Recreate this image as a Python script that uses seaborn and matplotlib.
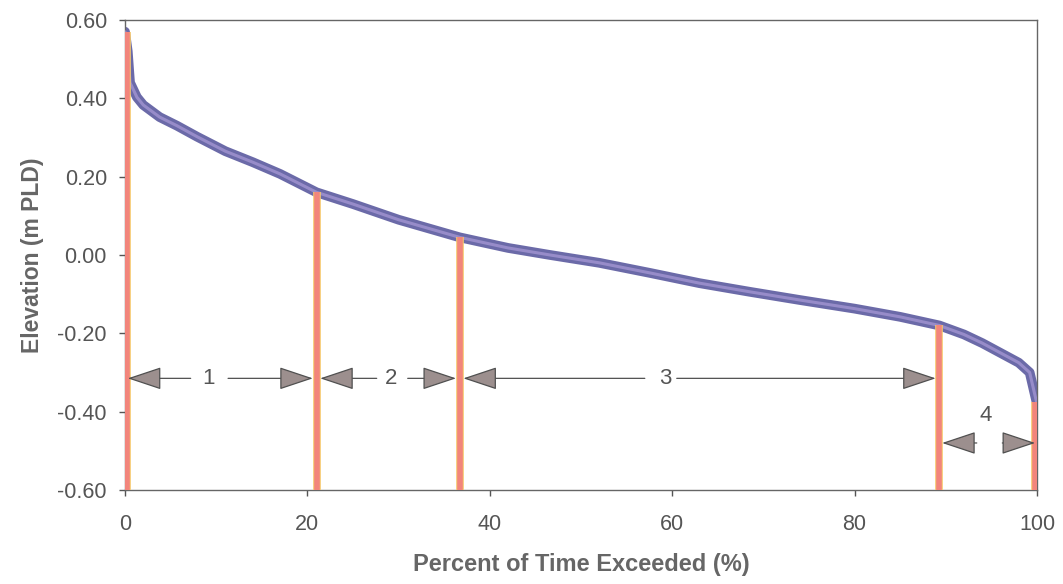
import matplotlib
matplotlib.use("Agg")
import matplotlib.pyplot as plt
import seaborn as sns
import pandas as pd

# Duration curve
pct_exceeded = [0, 0.3, 0.55, 1.3, 2.0, 3.8, 5.7, 7.9, 11, 14, 17, 21, 25, 30,
                36.7, 42, 46.6, 52, 57.6, 63, 68.5, 74, 80, 85, 89.3, 92, 94,
                96, 98, 99.2, 99.6, 100]
elevation = [0.57, 0.52, 0.44, 0.403, 0.383, 0.352, 0.33, 0.302, 0.265, 0.237,
             0.207, 0.16, 0.13, 0.09, 0.045, 0.018, 0.0, -0.02, -0.046, -0.072,
             -0.094, -0.115, -0.137, -0.158, -0.18, -0.203, -0.225, -0.25,
             -0.275, -0.30, -0.34, -0.38]

# Zone boundaries (red lines) and their top values
bound_x = [0.2, 21, 36.7, 89.3, 99.8]
bound_top = [0.57, 0.16, 0.045, -0.18, -0.375]

# Zone arrows: label, left tip, left line end, label x, right line start, right tip, y
zone_labels = ["1", "2", "3", "4"]
zone_left = [0.3, 21.4, 37.1, 89.6]
zone_left_end = [7.2, 27.6, 57.0, 93.4]
zone_text_x = [9.2, 29.2, 59.3, 94.4]
zone_right_start = [11.3, 31.0, 60.5, 96.2]
zone_right = [20.6, 36.3, 88.9, 99.8]
zone_y = [-0.315, -0.315, -0.315, -0.48]
zone_text_y = [-0.315, -0.315, -0.315, -0.41]

sns.set_theme(style="white")
plt.rcParams['font.family'] = ['Liberation Sans', 'DejaVu Sans']

fig = plt.figure(figsize=(10.63, 5.84), dpi=100)
ax = fig.add_axes([0.1176, 0.161, 0.8579, 0.8048])

df = pd.DataFrame({"pct": pct_exceeded, "elev": elevation})
sns.lineplot(data=df, x="pct", y="elev", ax=ax, color="#6b6aa8", lw=7.0,
             zorder=2)
sns.lineplot(data=df, x="pct", y="elev", ax=ax, color="#a395d2", lw=2.2,
             zorder=3, alpha=0.8)

ax.vlines(bound_x, -0.6, bound_top, colors="#f6c86a", lw=5.5, zorder=4)
ax.vlines(bound_x, -0.6, bound_top, colors="#f2857c", lw=4.0, zorder=5)

for lab, xl, xle, xt, xrs, xr, y, yt in zip(zone_labels, zone_left, zone_left_end,
                                            zone_text_x, zone_right_start,
                                            zone_right, zone_y, zone_text_y):
    style = "-|>,head_length=1.8,head_width=0.6"
    ax.annotate("", xy=(xl, y), xytext=(xle, y),
                arrowprops=dict(arrowstyle=style, fc="#9c8f8e", ec="#505050",
                                lw=0.9, shrinkA=0, shrinkB=0), zorder=6)
    ax.annotate("", xy=(xr, y), xytext=(xrs, y),
                arrowprops=dict(arrowstyle=style, fc="#9c8f8e", ec="#505050",
                                lw=0.9, shrinkA=0, shrinkB=0), zorder=6)
    ax.text(xt, yt, lab, ha="center", va="center", fontsize=16, color="#555555",
            zorder=7)

ax.set_xlim(0, 100)
ax.set_ylim(-0.6, 0.6)
ax.set_xticks([0, 20, 40, 60, 80, 100])
ax.set_yticks([-0.6, -0.4, -0.2, 0.0, 0.2, 0.4, 0.6])
ax.set_yticklabels([f"{v:.2f}" for v in [-0.6, -0.4, -0.2, 0.0, 0.2, 0.4, 0.6]])
ax.tick_params(axis="both", direction="out", length=4, width=1, color="#555555",
               labelcolor="#555555", labelsize=15.5, left=True, bottom=True)
ax.tick_params(axis="x", pad=13)
ax.tick_params(axis="y", pad=9)
for s in ax.spines.values():
    s.set_color("#666666")
    s.set_linewidth(1.0)

ax.set_xlabel("Percent of Time Exceeded (%)", fontsize=17, fontweight="bold",
              color="#666666", labelpad=13)
ax.set_ylabel("Elevation (m PLD)", fontsize=16.5, fontweight="bold",
              color="#666666", labelpad=10)

fig.savefig("out.png", dpi=100)
